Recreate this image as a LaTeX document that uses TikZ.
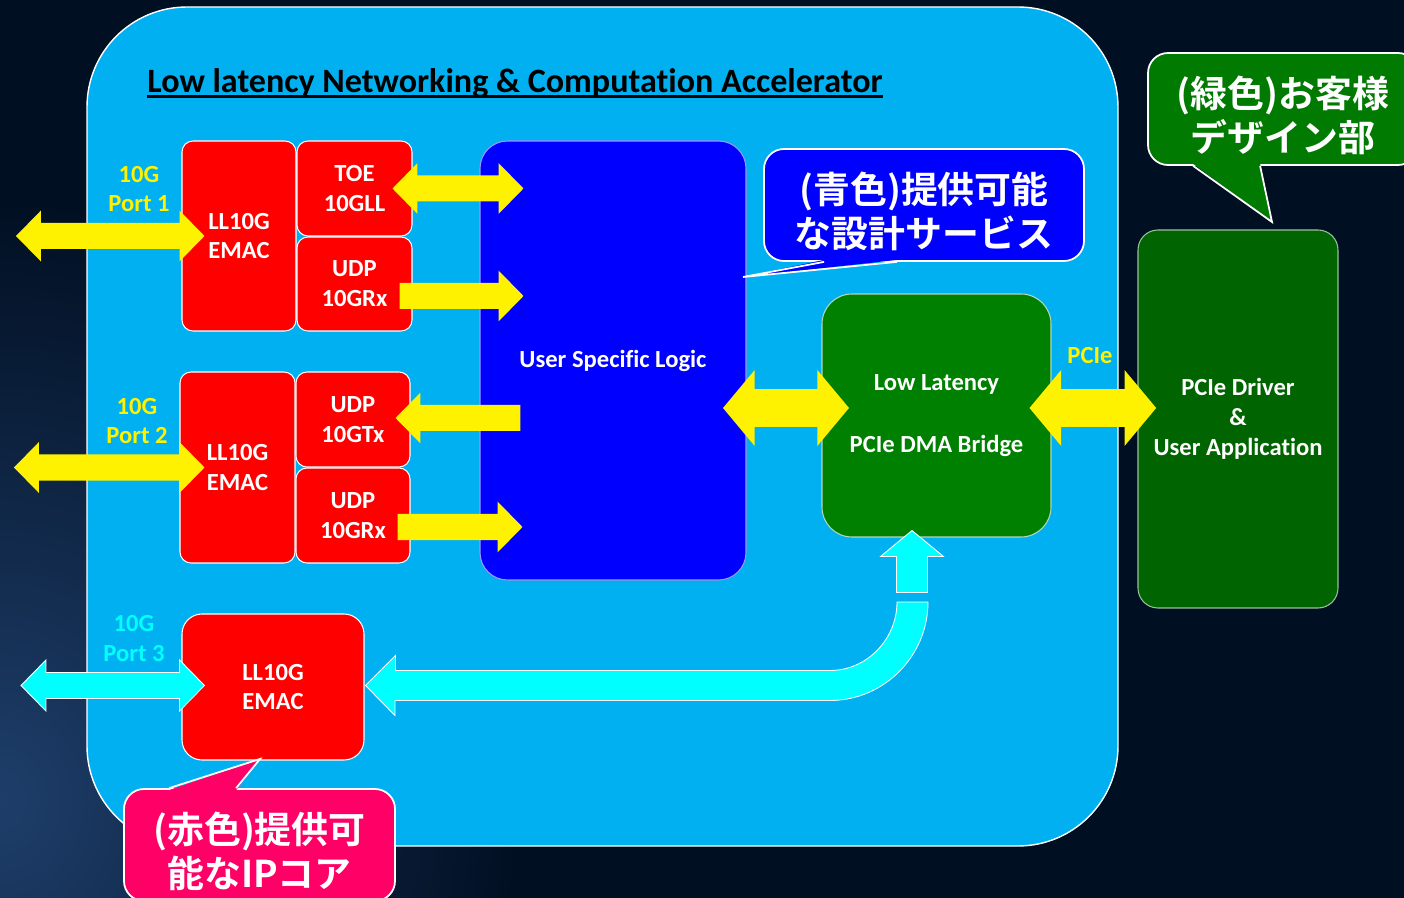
\documentclass[tikz,border=0pt]{standalone}
\usepackage{fontspec}
\setmainfont{Carlito}[Ligatures=NoCommon]
\newfontfamily\jpfont[BoldFont={Noto Sans CJK JP Bold}]{Noto Sans CJK JP}
\usetikzlibrary{calc,positioning}

\definecolor{bgnavy}{RGB}{1,15,34}
\definecolor{bgstreak}{RGB}{30,62,106}
\definecolor{boardblue}{RGB}{0,176,240}
\definecolor{aqua}{RGB}{0,255,255}
\definecolor{dmagreen}{RGB}{0,128,0}
\definecolor{appgreen}{RGB}{0,100,0}
\definecolor{notegreen}{RGB}{0,122,0}
\definecolor{notepink}{RGB}{255,0,102}

\newcommand{\ahl}{14.2pt}
\newcommand{\ahw}{14.5pt}
\newcommand{\asw}{7.4pt}

% double block arrow, both ends on the level of #2
\newcommand{\twoarrow}[3][]{%
  \path[#1] let \p1=(#2), \p2=(#3) in
    (\x1,\y1) -- (\x1+\ahl,\y1+\ahw) -- (\x1+\ahl,\y1+\asw) -- (\x2-\ahl,\y1+\asw)
    -- (\x2-\ahl,\y1+\ahw) -- (\x2,\y1) -- (\x2-\ahl,\y1-\ahw) -- (\x2-\ahl,\y1-\asw)
    -- (\x1+\ahl,\y1-\asw) -- (\x1+\ahl,\y1-\ahw) -- cycle;}
% single block arrow, tail #2, tip #3
\newcommand{\onearrow}[3][]{%
  \path[#1] let \p1=(#2), \p2=(#3), \n1={sign(\x2-\x1)} in
    (\x2,\y1) -- ({\x2-(\n1)*\ahl},{\y1+\ahw}) -- ({\x2-(\n1)*\ahl},{\y1+\asw}) -- (\x1,\y1+\asw)
    -- (\x1,\y1-\asw) -- ({\x2-(\n1)*\ahl},{\y1-\asw}) -- ({\x2-(\n1)*\ahl},{\y1-\ahw}) -- cycle;}
% pointer of a speech box: anchor, colour, offsets, tip, inward shift
\newcommand{\notetail}[6]{%
  \fill[#2] ($(#1)+(#3,#6)$) -- (#5) -- ($(#1)+(#4,#6)$) -- cycle;
  \draw[white, line width=1pt] ($(#1)+(#3,0)$) -- (#5) -- ($(#1)+(#4,0)$);}

\begin{document}
\begin{tikzpicture}[x=0.02cm, y=-0.02cm,
  wh/.style 2 args={minimum width=#1*0.02cm, minimum height=#2*0.02cm},
  smallarrow/.code={\def\ahl{14.2pt}\def\ahw{14.5pt}\def\asw{7.4pt}},
  bigarrow/.code={\def\ahl{18pt}\def\ahw{21.6pt}\def\asw{10.8pt}},
  yellowarrow/.style={fill=yellow, smallarrow},
  cyanarrow/.style={fill=aqua, draw=white, line width=0.5pt},
  block/.style={draw=white, line width=0.6pt, text=white, align=center, inner sep=0pt,
    font=\bfseries\fontsize{14}{17}\selectfont},
  ipcore/.style={block, fill=red, rounded corners=0.22cm},
  portlbl/.style={text=yellow, align=center, font=\bfseries\fontsize{14}{17}\selectfont},
  note/.style={draw=white, line width=1pt, rounded corners=0.4cm},
  notetext/.style={text=white, align=center, yshift=-3.4pt,
    font=\jpfont\bfseries\fontsize{21}{25}\selectfont}]
   \useasboundingbox (0,0) rectangle (1404,898);
   \fill[bgnavy] (0,0) rectangle (1404,898);
   \shade[inner color=bgstreak, outer color=bgnavy] (-520,200) rectangle (520,1400);
   \draw[fill=boardblue, draw=white, line width=0.8pt, rounded corners=2cm] (87,7) rectangle (1118,846);

   \node[anchor=base west, inner sep=0pt, font=\bfseries\fontsize{19.4}{23}\selectfont] (title) at (147,93)
     {Low latency Networking \& Computation Accelerator};
   \draw[line width=1.6pt] ([yshift=-2.2pt]title.base west) -- ([yshift=-2.2pt]title.base east);

   \begin{scope}[every node/.style={ipcore}]
    \node[wh={114}{190}] (emacA) at (239,236) {LL10G\\EMAC};
    \node[wh={115}{95}] (toe) at (354.5,188.5) {TOE\\10GLL};
    \node[wh={115}{94}] (rxA) at (354.5,284) {UDP\\10GRx};
    \node[wh={115}{191}] (emacB) at (237.5,467.5) {LL10G\\EMAC};
    \node[wh={114}{95}] (txB) at (353,419.5) {UDP\\10GTx};
    \node[wh={114}{95}] (rxB) at (353,515.5) {UDP\\10GRx};
    \node[wh={182}{146}, rounded corners=0.4cm] (emacC) at (273,687) {LL10G\\EMAC};
   \end{scope}
   \node[block, fill=blue, draw=white!60!blue, rounded corners=0.55cm, wh={266}{439}] (usl) at (613,360.5) {User Specific Logic};
   \node[block, fill=dmagreen, draw=white!70!dmagreen, rounded corners=0.6cm, wh={229}{243}] (dma) at (936.5,415.5) {Low Latency\\[18pt]PCIe DMA Bridge};
   \node[block, fill=appgreen, draw=white!60!appgreen, rounded corners=0.4cm, wh={200}{378}] (app) at (1238,419) {PCIe Driver\\\&\\User Application};

   \node[portlbl] (lbl1) at (139,189) {10G\\Port 1};
   \node[portlbl] (lbl2) at (137,421) {10G\\Port 2};
   \node[portlbl, text=aqua] (lbl3) at (134,638.5) {10G\\Port 3};
   \node[portlbl] (pcieLbl) at (1090,356) {PCIe};

   % ends of the block arrows
   \coordinate (port1) at (16,236);
   \coordinate (port2) at (14,467.5);
   \coordinate (port3) at (21,685.5);
   \coordinate (p1in) at ($(emacA.west)+(23,0)$);
   \coordinate (p2in) at ($(emacB.west)+(25,0)$);
   \coordinate (p3in) at ($(emacC.west)+(23,-1.5)$);
   \coordinate (toeL) at ($(toe.east)+(-20,0)$);
   \coordinate (toeR) at ($(usl.west |- toe.east)+(44,0)$);
   \coordinate (rxAs) at ($(rxA.east)+(-13,12)$);
   \coordinate (rxAe) at ($(usl.west |- rxAs)+(44,0)$);
   \coordinate (txBs) at ($(usl.west |- txB.east)+(41,-1.5)$);
   \coordinate (txBe) at ($(txB.east)+(-15,-1.5)$);
   \coordinate (rxBs) at ($(rxB.east)+(-13,11.5)$);
   \coordinate (rxBe) at ($(usl.west |- rxBs)+(43,0)$);
   \coordinate (uslR) at ($(usl.east)+(-23.5,47.5)$);
   \coordinate (dmaL) at ($(dma.west |- uslR)+(27.5,0)$);
   \coordinate (dmaR) at ($(dma.east |- uslR)+(-22,0)$);
   \coordinate (appL) at ($(app.west |- uslR)+(18.7,0)$);

   \twoarrow[yellowarrow]{port1}{p1in}
   \twoarrow[yellowarrow]{port2}{p2in}
   \twoarrow[yellowarrow]{toeL}{toeR}
   \onearrow[yellowarrow]{rxAs}{rxAe}
   \onearrow[yellowarrow]{txBs}{txBe}
   \onearrow[yellowarrow]{rxBs}{rxBe}
   \twoarrow[fill=yellow, bigarrow]{uslR}{dmaL}
   \twoarrow[fill=yellow, bigarrow]{dmaR}{appL}
   \twoarrow[cyanarrow, smallarrow]{port3}{p3in}

   % EMAC 3 round to the DMA bridge
   \filldraw[cyanarrow] ($(emacC.east)+(1,-1.5)$) coordinate (c3tip) -- ++(30,-30) -- ++(0,15)
     -- (830,670.5) .. controls (867,670.5) and (897,639) .. (897,602) coordinate (gapLow)
     -- (928,602) .. controls (928,656) and (884,700.5) .. (830,700.5) -- (395,700.5) -- ++(0,15) -- cycle;
   \filldraw[cyanarrow] ($(dma.south)+(-24.5,-7)$) coordinate (upTip) -- ++(31.5,26) -- ++(-16,0)
     -- ++(0,36) -- ++(-31,0) -- ++(0,-36) -- ++(-16,0) -- cycle;

   % speech boxes
   \node[note, fill=blue, wh={320}{112}] (noteBlue) at (924,205) {};
   \node[note, fill=notegreen, wh={270}{112}] (noteGreen) at (1283,109) {};
   \node[note, fill=notepink, wh={271}{112}] (notePink) at (259.5,845) {};
   \coordinate (blueTip) at (743,277);
   \coordinate (greenTip) at (1272,222);
   \coordinate (pinkTip) at (260,759);
   \notetail{noteBlue.south west}{blue}{61}{134}{blueTip}{-2}
   \notetail{noteGreen.south west}{notegreen}{46}{113}{greenTip}{-2}
   \notetail{notePink.north west}{notepink}{46}{113}{pinkTip}{2}
   \node[notetext] (blueText) at (noteBlue) {(青色)提供可能\\な設計サービス};
   \node[notetext] (greenText) at (noteGreen) {(緑色)お客様\\デザイン部};
   \node[notetext] (pinkText) at (notePink) {(赤色)提供可\\能なIPコア};
\end{tikzpicture}
\end{document}
